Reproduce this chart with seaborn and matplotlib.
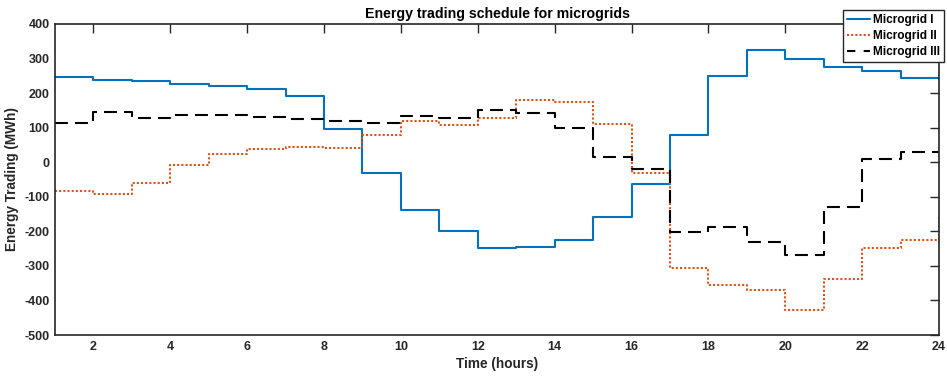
import numpy as np
import pandas as pd
import matplotlib
matplotlib.use("Agg")
import matplotlib.pyplot as plt
import seaborn as sns

# Hourly energy trading (MWh) per microgrid, hours 1..24
hours = list(range(1, 25))
microgrid_1 = [247, 239, 235, 225, 222, 213, 191, 96, -31, -139, -200, -248,
               -245, -225, -159, -63, 78, 249, 324, 299, 275, 263, 244, 240]
microgrid_2 = [-83, -93, -59, -9, 25, 38, 43, 41, 79, 118, 109, 127,
               179, 175, 111, -32, -307, -355, -369, -428, -338, -248, -224, -158]
microgrid_3 = [113, 144, 128, 138, 136, 132, 125, 119, 114, 135, 128, 152,
               141, 99, 14, -21, -201, -187, -230, -268, -129, 8, 29, 29]

series_names = ["Microgrid I", "Microgrid II", "Microgrid III"]
series_values = [microgrid_1, microgrid_2, microgrid_3]
series_colors = ["#0072BD", "#D95319", "#000000"]
series_styles = ["-", (0, (1, 1)), (0, (6.2, 3.4))]

x_ticks = [2, 4, 6, 8, 10, 12, 14, 16, 18, 20, 22, 24]
y_ticks = [-500, -400, -300, -200, -100, 0, 100, 200, 300, 400]

sns.set_theme(style="white")
plt.rcParams["font.family"] = ["Liberation Sans", "DejaVu Sans"]
plt.rcParams["font.weight"] = "bold"

ink = "#262626"

fig = plt.figure(figsize=(9.47, 3.78), dpi=100)
ax = fig.add_axes([55 / 947, 1 - 335 / 378, (939 - 55) / 947, (335 - 24) / 378])

for name, vals, col, ls in zip(series_names, series_values, series_colors, series_styles):
    df = pd.DataFrame({"hour": hours, "mwh": vals})
    sns.lineplot(data=df, x="hour", y="mwh", ax=ax, color=col, linestyle=ls,
                 linewidth=1.5, drawstyle="steps-post", label=name, sort=False)

ax.set_xlim(1, 24)
ax.set_ylim(-500, 400)
ax.set_xticks(x_ticks)
ax.set_yticks(y_ticks)
ax.set_xticklabels([str(v) for v in x_ticks], fontweight="bold", fontsize=9, color=ink)
ax.set_yticklabels([str(v) for v in y_ticks], fontweight="bold", fontsize=9, color=ink)
ax.tick_params(axis="both", which="both", direction="in", length=6.5, width=1.0,
               colors=ink, top=True, right=True, pad=4)
for sp in ax.spines.values():
    sp.set_visible(True)
    sp.set_color(ink)
    sp.set_linewidth(1.2)

ax.set_xlabel("Time (hours)", fontsize=9.8, fontweight="bold", color=ink, labelpad=3)
ax.set_ylabel("Energy Trading (MWh)", fontsize=9.8, fontweight="bold", color=ink, labelpad=4)
ax.set_title("Energy trading schedule for microgrids", fontsize=10.2,
             fontweight="bold", color="#000000", pad=4)

leg = ax.legend(loc="upper right", bbox_to_anchor=(944 / 947, 1 - 10 / 378),
                bbox_transform=fig.transFigure, fontsize=8.6, frameon=True,
                fancybox=False, framealpha=1, edgecolor=ink, handlelength=1.9,
                handletextpad=0.25, labelspacing=0.32, borderpad=0.35,
                borderaxespad=0)
leg.get_frame().set_linewidth(1.0)
for t in leg.get_texts():
    t.set_fontweight("bold")
    t.set_color("#000000")
leg.get_lines()[2].set_linestyle((0, (4, 4)))

fig.savefig("out.png", dpi=100)
